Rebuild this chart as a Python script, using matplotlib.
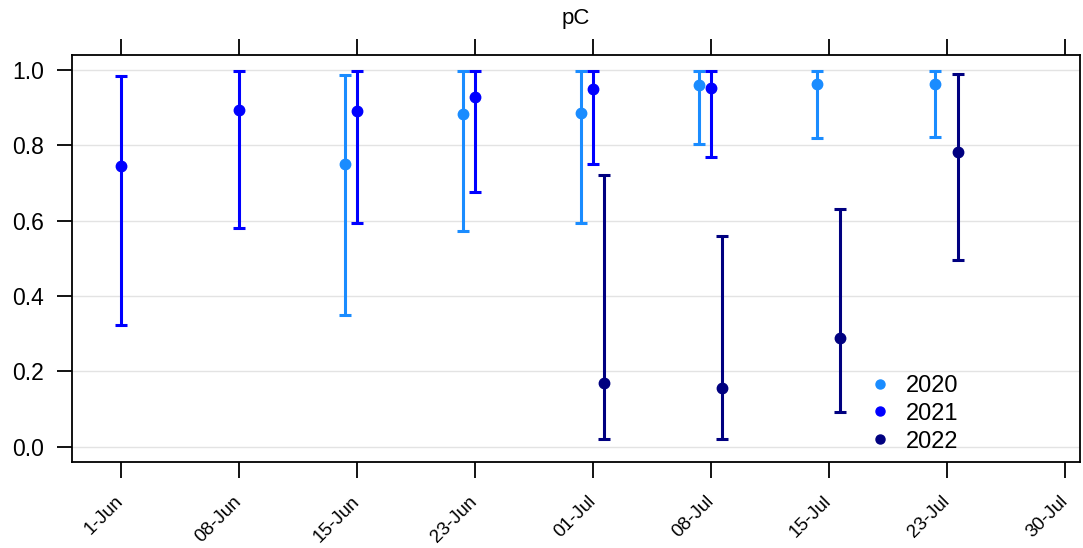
import matplotlib
matplotlib.use("Agg")
import matplotlib.pyplot as plt
from matplotlib.lines import Line2D
import numpy as np

plt.rcParams['font.family'] = ['Liberation Sans', 'DejaVu Sans']

# week labels (equally spaced positions)
week_labels = ["1-Jun", "08-Jun", "15-Jun", "23-Jun", "01-Jul", "08-Jul", "15-Jul", "23-Jul", "30-Jul"]

# 2020
wk_2020 = [2, 3, 4, 5, 6, 7]
mean_2020 = [0.750, 0.883, 0.885, 0.960, 0.962, 0.963]
lo_2020 = [0.350, 0.573, 0.595, 0.803, 0.820, 0.822]
hi_2020 = [0.987, 0.997, 0.997, 0.998, 0.998, 0.998]

# 2021
wk_2021 = [0, 1, 2, 3, 4, 5]
mean_2021 = [0.745, 0.893, 0.890, 0.927, 0.950, 0.951]
lo_2021 = [0.322, 0.580, 0.593, 0.677, 0.750, 0.768]
hi_2021 = [0.985, 0.997, 0.997, 0.998, 0.998, 0.998]

# 2022
wk_2022 = [4, 5, 6, 7]
mean_2022 = [0.170, 0.155, 0.290, 0.782]
lo_2022 = [0.022, 0.022, 0.093, 0.495]
hi_2022 = [0.720, 0.560, 0.632, 0.990]

years = ["2020", "2021", "2022"]
colors = ["#1a8cff", "#0000ff", "#000080"]
offsets = [-0.1, 0.0, 0.095]

series = [(wk_2020, mean_2020, lo_2020, hi_2020),
          (wk_2021, mean_2021, lo_2021, hi_2021),
          (wk_2022, mean_2022, lo_2022, hi_2022)]

fig = plt.figure(figsize=(10.83, 5.48), dpi=100)
ax = fig.add_axes([0.0665, 0.157, 0.931, 0.743])

for y in [0, 0.2, 0.4, 0.6, 0.8, 1.0]:
    ax.axhline(y, color="#e3e3e3", lw=1, zorder=0)

for (wk, m, lo, hi), col, off in zip(series, colors, offsets):
    x = np.array(wk) + off
    m = np.array(m)
    err = [m - np.array(lo), np.array(hi) - m]
    ax.errorbar(x, m, yerr=err, fmt='o', color=col, ms=7.5, elinewidth=2.2,
                capsize=4, capthick=2.2, zorder=3)

ax.set_xlim(-0.415, 8.13)
ax.set_ylim(-0.04, 1.04)
ax.set_xticks(range(len(week_labels)))
ax.set_xticklabels(week_labels, rotation=45, ha='right', va='center',
                   rotation_mode='anchor', fontsize=13.5)
ax.set_yticks([0, 0.2, 0.4, 0.6, 0.8, 1.0])
ax.set_yticklabels(["0.0", "0.2", "0.4", "0.6", "0.8", "1.0"], fontsize=16.5)
ax.tick_params(axis='x', which='both', top=True, direction='out', length=11.5, width=1.3, pad=15)
ax.tick_params(axis='y', direction='out', length=11, width=1.3, right=False, pad=9)
for s in ax.spines.values():
    s.set_linewidth(1.3)

ax.set_title("pC", fontsize=16, pad=22)

handles = [Line2D([], [], marker='o', ls='none', color=c, ms=6.5) for c in colors]
ax.legend(handles, years, loc='upper left', bbox_to_anchor=(0.78, 0.243), frameon=False,
          fontsize=17, handlelength=0.8, handletextpad=0.7, labelspacing=0.25, borderpad=0)

fig.savefig("out.png", dpi=100)
